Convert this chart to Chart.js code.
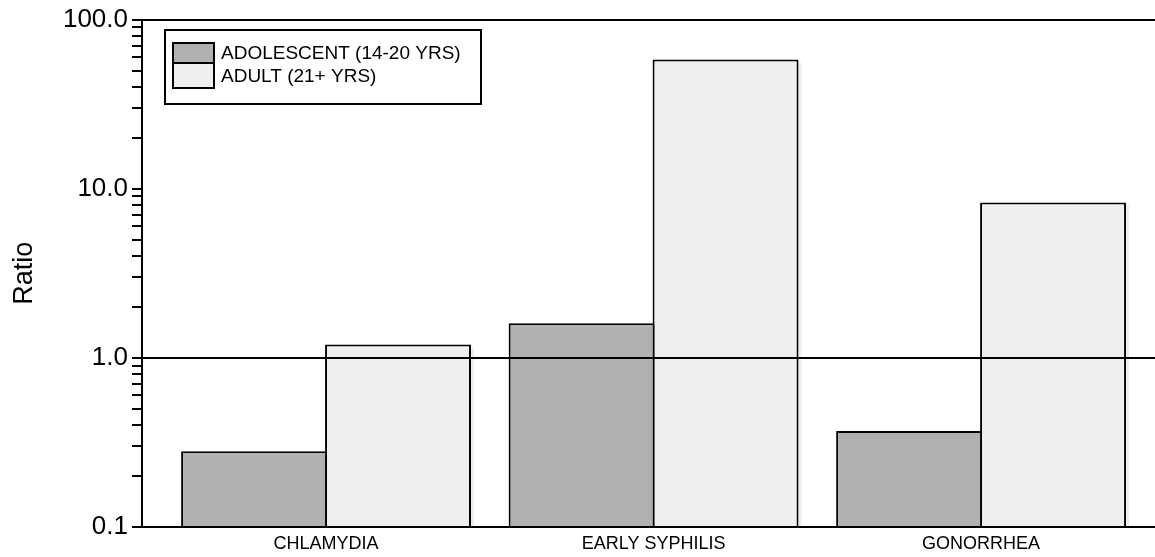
<!DOCTYPE html>
<html>
<head>
<meta charset="utf-8">
<script src="https://cdn.jsdelivr.net/npm/chart.js@4/dist/chart.umd.min.js"></script>
<style>
  html, body { margin: 0; padding: 0; background: #fff; }
  #grafico { display: block; }
</style>
</head>
<body>
<canvas id="grafico" width="1155" height="557"></canvas>
<script>
// Dados do gráfico
const categorias = ["CHLAMYDIA", "EARLY SYPHILIS", "GONORRHEA"];
const adolescentes = [0.28, 1.6, 0.37];
const adultos = [1.2, 58, 8.3];
const rotulosSeries = ["ADOLESCENT (14-20 YRS)", "ADULT (21+ YRS)"];
const decadas = [0.1, 1, 10, 100];
const rotulosY = ["0.1", "1.0", "10.0", "100.0"];

const fonte = "'Liberation Sans', Arial, sans-serif";

// Sombra clara deslocada atrás de cada barra
const sombraBarras = {
    id: "sombraBarras",
    beforeDatasetsDraw(chart, args, opts) {
        const ctx = chart.ctx;
        const area = chart.chartArea;
        ctx.save();
        ctx.beginPath();
        ctx.rect(area.left, area.top, area.right - area.left + 10, area.bottom - area.top);
        ctx.clip();
        ctx.fillStyle = opts.cor;
        chart.data.datasets.forEach((ds, i) => {
            chart.getDatasetMeta(i).data.forEach(bar => {
                const p = bar.getProps(["x", "y", "width", "base"], true);
                ctx.fillRect(p.x - p.width / 2 + opts.dx, p.y + opts.dy, p.width, p.base - p.y);
            });
        });
        ctx.restore();
    }
};

// Legenda com moldura dentro da área do gráfico
const legendaCaixa = {
    id: "legendaCaixa",
    afterDraw(chart, args, opts) {
        const ctx = chart.ctx;
        ctx.save();
        ctx.strokeStyle = "#000";
        ctx.lineWidth = 2;
        ctx.strokeRect(opts.x, opts.y, opts.w, opts.h);

        ctx.font = opts.fonte;
        ctx.textBaseline = "middle";
        ctx.textAlign = "left";
        let y = opts.y + opts.topo;
        chart.data.datasets.forEach((ds, i) => {
            const h = opts.alturas[i];
            ctx.fillStyle = ds.backgroundColor;
            ctx.fillRect(opts.x + opts.recuo, y, opts.caixa, h);
            ctx.strokeRect(opts.x + opts.recuo, y, opts.caixa, h);
            ctx.fillStyle = "#000";
            ctx.fillText(ds.label, opts.x + opts.recuo + opts.caixa + 7, y + h / 2 + 1);
            y += h;
        });
        ctx.restore();
    }
};

new Chart(document.getElementById("grafico"), {
    type: "bar",
    data: {
        datasets: [
            {
                label: rotulosSeries[0],
                data: adolescentes.map((v, i) => ({ x: i, y: v })),
                backgroundColor: "#b0b0b0",
                borderColor: "#000",
                borderWidth: 2
            },
            {
                label: rotulosSeries[1],
                data: adultos.map((v, i) => ({ x: i, y: v })),
                backgroundColor: "#efefef",
                borderColor: "#000",
                borderWidth: 2
            }
        ]
    },
    options: {
        responsive: false,
        animation: false,
        layout: { padding: { top: 19, right: 0, bottom: 0, left: 0 } },
        datasets: {
            bar: { categoryPercentage: 0.879, barPercentage: 1.014, inflateAmount: 0 }
        },
        scales: {
            x: {
                type: "linear",
                offset: false,
                min: -0.562,
                max: 2.531,
                afterBuildTicks: s => { s.ticks = categorias.map((c, i) => ({ value: i })); },
                afterFit: s => { s.height = 30; },
                grid: { display: false, drawTicks: false, offset: false },
                border: { color: "#000", width: 2, z: 2 },
                ticks: {
                    autoSkip: false,
                    maxRotation: 0,
                    padding: 6,
                    color: "#000",
                    font: { family: fonte, size: 18 },
                    callback: v => categorias[v]
                }
            },
            y: {
                type: "logarithmic",
                min: 0.1,
                max: 100,
                afterBuildTicks: s => {
                    const lista = [];
                    decadas.slice(0, -1).forEach(d => {
                        for (let k = 1; k < 10; k++) lista.push({ value: d * k });
                    });
                    lista.push({ value: decadas[decadas.length - 1] });
                    s.ticks = lista;
                },
                afterFit: s => { s.width = 142; },
                grid: {
                    z: 1,
                    lineWidth: 2,
                    tickLength: 10,
                    tickColor: "#000",
                    tickWidth: 2,
                    color: c => (c.tick && (c.tick.value === 1 || c.tick.value === 100)) ? "#000" : "rgba(0,0,0,0)"
                },
                border: { color: "#000", width: 2, z: 2 },
                ticks: {
                    autoSkip: false,
                    padding: 4,
                    color: "#000",
                    font: { family: fonte, size: 26 },
                    callback: v => {
                        const i = decadas.indexOf(v);
                        return i >= 0 ? rotulosY[i] : "";
                    }
                },
                title: {
                    display: true,
                    text: "Ratio",
                    color: "#000",
                    font: { family: fonte, size: 27 },
                    padding: { top: 8, bottom: 0 }
                }
            }
        },
        plugins: {
            legend: { display: false },
            tooltip: { enabled: false },
            sombraBarras: { cor: "rgba(0,0,0,0.07)", dx: 3, dy: 3 },
            legendaCaixa: {
                x: 165, y: 30, w: 316, h: 74,
                recuo: 8, topo: 13, caixa: 41, alturas: [20, 25],
                fonte: "19px " + fonte
            }
        }
    },
    plugins: [sombraBarras, legendaCaixa]
});
</script>
</body>
</html>
